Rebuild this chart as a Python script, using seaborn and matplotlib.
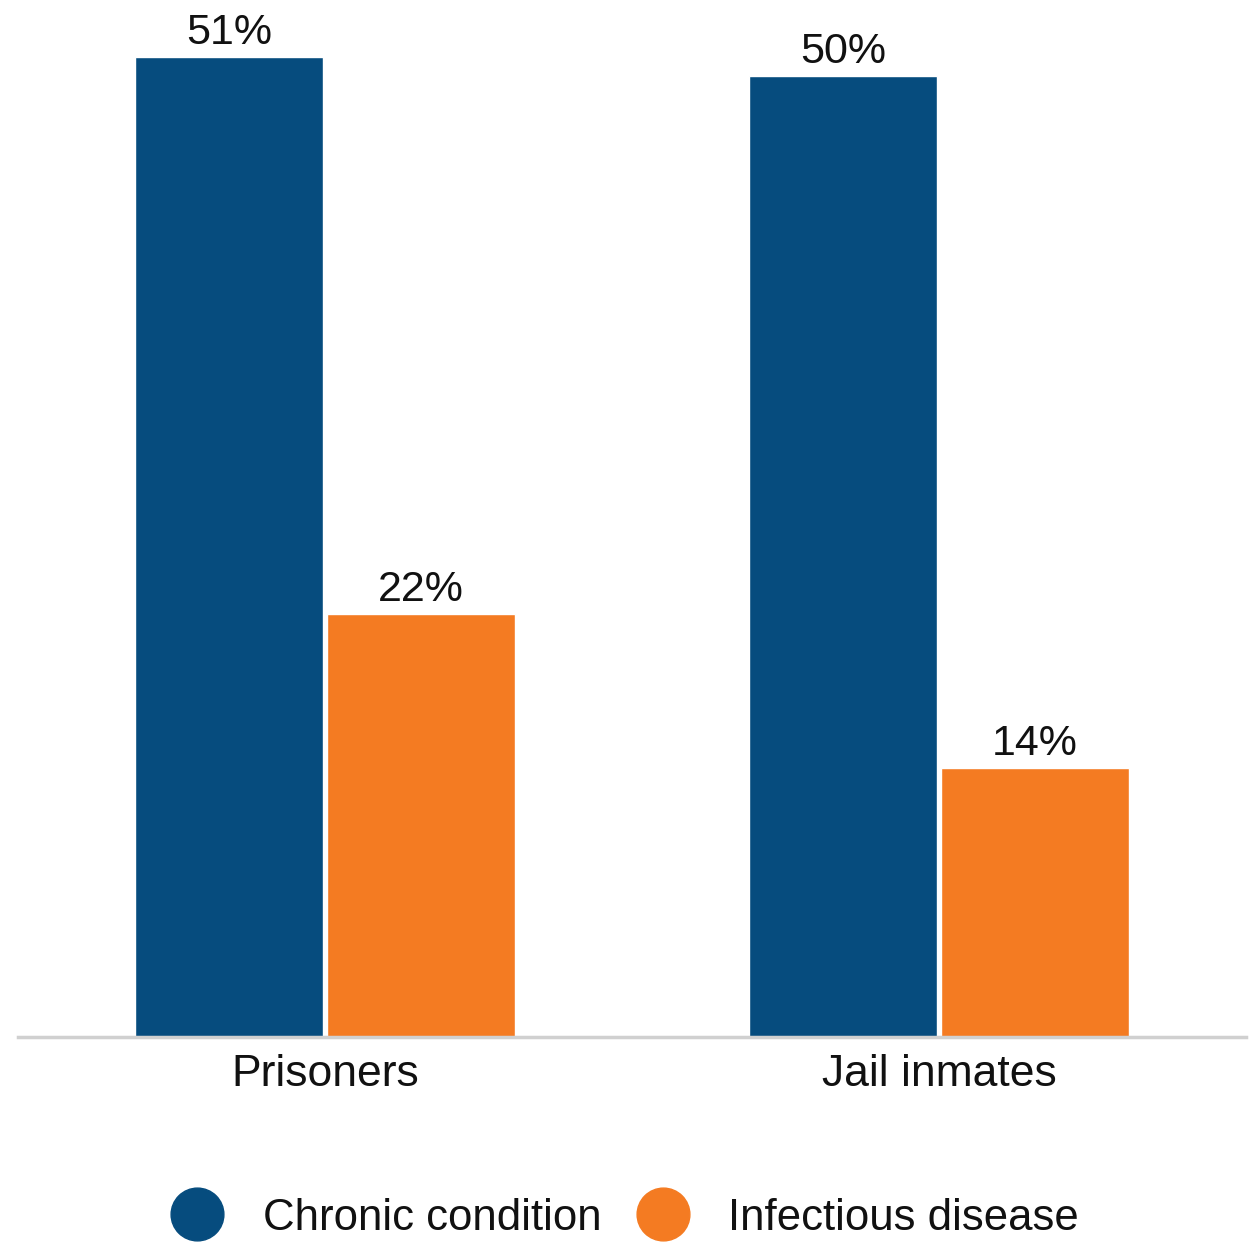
import seaborn as sns
import pandas as pd
import matplotlib.pyplot as plt
from matplotlib.lines import Line2D

groups = ["Prisoners", "Prisoners", "Jail inmates", "Jail inmates"]
conditions = ["Chronic condition", "Infectious disease", "Chronic condition", "Infectious disease"]
shares = [51, 22, 50, 14]

palette = {"Chronic condition": "#064c7e", "Infectious disease": "#f47b22"}

df = pd.DataFrame({"group": groups, "condition": conditions, "share": shares})

sns.set_theme(style="white")
plt.rcParams["font.family"] = ["Liberation Sans Narrow", "Liberation Sans", "DejaVu Sans"]

fig = plt.figure(figsize=(12.58, 12.44), dpi=100)
ax = fig.add_axes([18 / 1258, (1244 - 1037) / 1244, (1246 - 18) / 1258, 1037 / 1244])

sns.barplot(
    data=df,
    x="group",
    y="share",
    hue="condition",
    palette=palette,
    width=0.626,
    gap=0.025,
    saturation=1,
    legend=False,
    ax=ax,
)

for cont in ax.containers:
    ax.bar_label(cont, fmt="%d%%", padding=3, fontsize=31, color="#111111")

ax.set_xlim(-0.5, 1.5)
ax.set_ylim(0, 53.95)
ax.set_xlabel("")
ax.set_ylabel("")
ax.set_yticks([])
ax.tick_params(axis="x", length=0, pad=12, labelsize=32, labelcolor="#111111")
for side in ["top", "left", "right"]:
    ax.spines[side].set_visible(False)
ax.spines["bottom"].set_color("#d0d0d0")
ax.spines["bottom"].set_linewidth(2.5)

handles = [
    Line2D([], [], marker="o", linestyle="", markersize=38,
           markerfacecolor=palette[c], markeredgecolor=palette[c], label=c)
    for c in palette
]
fig.legend(
    handles=handles,
    loc="center",
    bbox_to_anchor=(0.49, (1244 - 1218) / 1244),
    ncol=2,
    frameon=False,
    fontsize=31.5,
    handletextpad=0.5,
    columnspacing=0.4,
    labelcolor="#111111",
)

plt.savefig("out.png", dpi=100)
